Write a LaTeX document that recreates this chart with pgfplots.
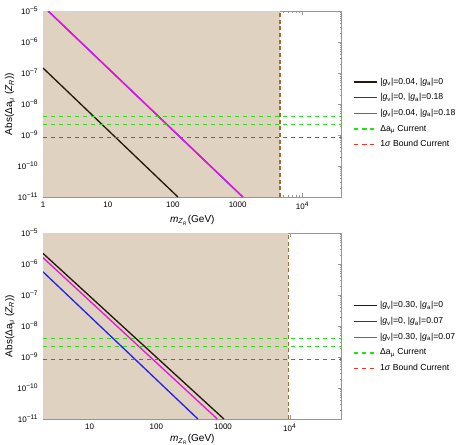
\documentclass[border=0pt]{standalone}
\usepackage{pgfplots}
\pgfplotsset{compat=1.18}
\usepackage{fontspec}
\setmainfont{Liberation Sans}
\definecolor{cFill}{RGB}{224,210,193}
\definecolor{cBound}{RGB}{170,105,45}
\definecolor{cGreen}{RGB}{40,225,20}
\definecolor{cRed}{RGB}{240,50,40}
\definecolor{cMag}{RGB}{225,25,215}
\definecolor{cBlue}{RGB}{35,35,235}
\definecolor{cBlack}{RGB}{35,25,15}
\definecolor{cFrame}{RGB}{150,150,150}
\begin{document}
\begin{tikzpicture}
\useasboundingbox (-32.25pt,147.75pt) rectangle (312.75pt,-185.25pt);
% upper panel
\begin{axis}[at={(0,0)},anchor=south west,
  width=224pt,height=139.5pt,scale only axis,
  xmode=log,ymode=log,
  xmin=1,xmax=4e4,ymin=1e-11,ymax=1e-5,
  axis line style={color=cFrame},tick style={color=cFrame},
  major tick length=3pt,minor tick length=1.5pt,
  tick label style={font=\fontsize{6}{7}\selectfont},
  label style={font=\fontsize{7.5}{9}\selectfont},
  xlabel style={yshift=3pt},ylabel style={yshift=-5pt},
  xtick={1,10,100,1000,10000},xticklabels={1,10,100,1000,10\textsuperscript{4}},
  ytick={1e-11,1e-10,1e-9,1e-8,1e-7,1e-6,1e-5},
  yticklabels={10\textsuperscript{−11},10\textsuperscript{−10},10\textsuperscript{−9},10\textsuperscript{−8},10\textsuperscript{−7},10\textsuperscript{−6},10\textsuperscript{−5}},
  ylabel={Abs(Δa\textsubscript{μ} (\textit{Z}\textsubscript{\textit{R}}))},
  xlabel={\textit{m}\textsubscript{\textit{Z}\textsubscript{\textit{R}}}(GeV)},
  legend style={draw=none,fill=none,font=\fontsize{6.5}{8}\selectfont,
    at={(1.025,0.45)},anchor=west,row sep=1.6pt},
  legend cell align=left]
\addplot[fill=cFill,draw=none,forget plot] coordinates {(1,1e-11)(4500,1e-11)(4500,1e-5)(1,1e-5)};
\addplot[color=cBound,densely dashed,line width=0.9pt,forget plot] coordinates {(4500,1e-11)(4500,1e-5)};
\addplot[color=cBlack,line width=1pt] coordinates {(1,1.45e-7)(120,1e-11)};
\addlegendentry{|\textit{g}\textsubscript{v}|=0.04, |\textit{g}\textsubscript{a}|=0}
\addplot[color=cBlue,line width=1pt] coordinates {(1.2,1e-5)(1200,1e-11)};
\addlegendentry{|\textit{g}\textsubscript{v}|=0, |\textit{g}\textsubscript{a}|=0.18}
\addplot[color=cMag,line width=1.1pt] coordinates {(1.2,1e-5)(1200,1e-11)};
\addlegendentry{|\textit{g}\textsubscript{v}|=0.04, |\textit{g}\textsubscript{a}|=0.18}
\addplot[color=cGreen,dashed,line width=1pt] coordinates {(1,3.9e-9)(4e4,3.9e-9)};
\addlegendentry{Δa\textsubscript{μ} Current}
\addplot[color=cRed,dashed,line width=1pt] coordinates {(1,8.5e-10)(4e4,8.5e-10)};
\addlegendentry{1\textit{σ} Bound Current}
\addplot[color=cGreen,dashed,line width=1pt,forget plot] coordinates {(1,2.2e-9)(4e4,2.2e-9)};
\end{axis}
% lower panel
\begin{axis}[at={(0,-166.5pt)},anchor=south west,
  width=224pt,height=139.5pt,scale only axis,
  xmode=log,ymode=log,
  xmin=2,xmax=6e4,ymin=1e-11,ymax=1e-5,
  axis line style={color=cFrame},tick style={color=cFrame},
  major tick length=3pt,minor tick length=1.5pt,
  tick label style={font=\fontsize{6}{7}\selectfont},
  label style={font=\fontsize{7.5}{9}\selectfont},
  xlabel style={yshift=5pt},ylabel style={yshift=-5pt},
  xtick={10,100,1000,10000},xticklabels={10,100,1000,10\textsuperscript{4}},
  ytick={1e-11,1e-10,1e-9,1e-8,1e-7,1e-6,1e-5},
  yticklabels={10\textsuperscript{−11},10\textsuperscript{−10},10\textsuperscript{−9},10\textsuperscript{−8},10\textsuperscript{−7},10\textsuperscript{−6},10\textsuperscript{−5}},
  ylabel={Abs(Δa\textsubscript{μ} (\textit{Z}\textsubscript{\textit{R}}))},
  xlabel={\textit{m}\textsubscript{\textit{Z}\textsubscript{\textit{R}}}(GeV)},
  legend style={draw=none,fill=none,font=\fontsize{6.5}{8}\selectfont,
    at={(1.025,0.44)},anchor=west,row sep=1.6pt},
  legend cell align=left]
\addplot[fill=cFill,draw=none,forget plot] coordinates {(2,1e-11)(9500,1e-11)(9500,1e-5)(2,1e-5)};
\addplot[color=cBound,densely dashed,line width=0.9pt,forget plot] coordinates {(9500,1e-11)(9500,1e-5)};
\addplot[color=cBlack,line width=1pt] coordinates {(2,2.2e-6)(1030,1e-11)};
\addlegendentry{|\textit{g}\textsubscript{v}|=0.30, |\textit{g}\textsubscript{a}|=0}
\addplot[color=cBlue,line width=1pt] coordinates {(2,5.6e-7)(420,1e-11)};
\addlegendentry{|\textit{g}\textsubscript{v}|=0, |\textit{g}\textsubscript{a}|=0.07}
\addplot[color=cMag,line width=1pt] coordinates {(2,1.6e-6)(820,1e-11)};
\addlegendentry{|\textit{g}\textsubscript{v}|=0.30, |\textit{g}\textsubscript{a}|=0.07}
\addplot[color=cGreen,dashed,line width=1pt] coordinates {(2,3.9e-9)(6e4,3.9e-9)};
\addlegendentry{Δa\textsubscript{μ} Current}
\addplot[color=cRed,dashed,line width=1pt] coordinates {(2,8.5e-10)(6e4,8.5e-10)};
\addlegendentry{1\textit{σ} Bound Current}
\addplot[color=cGreen,dashed,line width=1pt,forget plot] coordinates {(2,2.2e-9)(6e4,2.2e-9)};
\end{axis}
\end{tikzpicture}
\end{document}
